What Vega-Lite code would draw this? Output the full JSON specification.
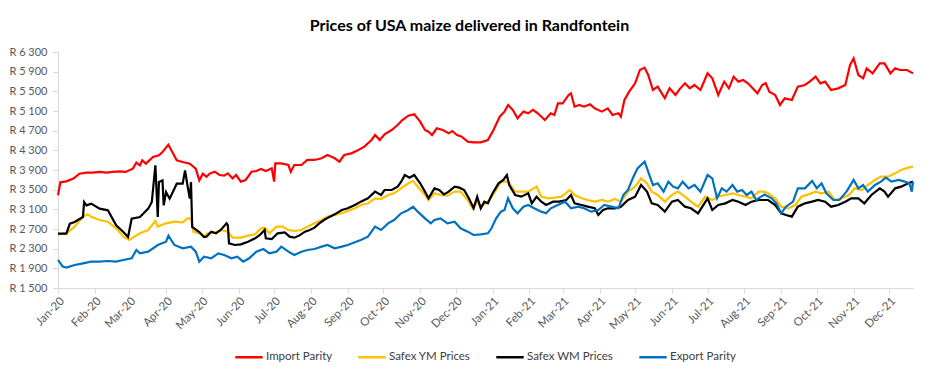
{
  "$schema": "https://vega.github.io/schema/vega-lite/v6.json",
  "autosize": {"type": "none"},
  "width": 855,
  "height": 236,
  "padding": {"left": 58, "top": 52, "right": 26, "bottom": 86},
  "background": "white",
  "title": {"text": "Prices of USA maize delivered in Randfontein", "font": "Lato", "fontSize": 16, "fontWeight": "bold", "color": "#000000", "anchor": "middle", "frame": "group", "dx": -16, "offset": 12},
  "config": {"view": {"stroke": null}, "font": "Lato"},
  "datasets": {
    "imp": [
      {"date":"2020-01-01","price":3385},{"date":"2020-01-03","price":3650},{"date":"2020-01-08","price":3670},{"date":"2020-01-14","price":3724},{"date":"2020-01-19","price":3825},{"date":"2020-01-25","price":3846},{"date":"2020-01-30","price":3846},{"date":"2020-02-05","price":3860},{"date":"2020-02-11","price":3846},{"date":"2020-02-16","price":3860},{"date":"2020-02-22","price":3873},{"date":"2020-02-27","price":3860},{"date":"2020-03-04","price":3927},{"date":"2020-03-07","price":4049},{"date":"2020-03-10","price":3995},{"date":"2020-03-12","price":4097},{"date":"2020-03-15","price":4029},{"date":"2020-03-21","price":4165},{"date":"2020-03-26","price":4198},{"date":"2020-03-29","price":4266},{"date":"2020-04-03","price":4415},{"date":"2020-04-07","price":4232},{"date":"2020-04-10","price":4097},{"date":"2020-04-15","price":4063},{"date":"2020-04-21","price":4029},{"date":"2020-04-26","price":3927},{"date":"2020-04-29","price":3690},{"date":"2020-05-02","price":3825},{"date":"2020-05-05","price":3764},{"date":"2020-05-08","price":3832},{"date":"2020-05-12","price":3866},{"date":"2020-05-16","price":3798},{"date":"2020-05-20","price":3785},{"date":"2020-05-23","price":3832},{"date":"2020-05-27","price":3730},{"date":"2020-05-30","price":3798},{"date":"2020-06-03","price":3663},{"date":"2020-06-07","price":3697},{"date":"2020-06-12","price":3866},{"date":"2020-06-16","price":3880},{"date":"2020-06-20","price":3920},{"date":"2020-06-24","price":3880},{"date":"2020-06-29","price":3934},{"date":"2020-07-01","price":3663},{"date":"2020-07-02","price":4036},{"date":"2020-07-07","price":4036},{"date":"2020-07-13","price":4002},{"date":"2020-07-15","price":3866},{"date":"2020-07-18","price":4002},{"date":"2020-07-24","price":4002},{"date":"2020-07-29","price":4104},{"date":"2020-08-04","price":4104},{"date":"2020-08-10","price":4138},{"date":"2020-08-15","price":4205},{"date":"2020-08-21","price":4138},{"date":"2020-08-25","price":4070},{"date":"2020-08-29","price":4205},{"date":"2020-09-04","price":4239},{"date":"2020-09-10","price":4307},{"date":"2020-09-15","price":4375},{"date":"2020-09-21","price":4510},{"date":"2020-09-24","price":4612},{"date":"2020-09-28","price":4510},{"date":"2020-10-02","price":4626},{"date":"2020-10-08","price":4714},{"date":"2020-10-13","price":4815},{"date":"2020-10-17","price":4917},{"date":"2020-10-22","price":5005},{"date":"2020-10-27","price":5032},{"date":"2020-11-01","price":4883},{"date":"2020-11-05","price":4714},{"date":"2020-11-08","price":4680},{"date":"2020-11-11","price":4612},{"date":"2020-11-15","price":4748},{"date":"2020-11-20","price":4714},{"date":"2020-11-25","price":4646},{"date":"2020-11-28","price":4693},{"date":"2020-12-02","price":4612},{"date":"2020-12-06","price":4578},{"date":"2020-12-11","price":4476},{"date":"2020-12-16","price":4463},{"date":"2020-12-22","price":4463},{"date":"2020-12-28","price":4510},{"date":"2021-01-01","price":4680},{"date":"2021-01-07","price":4985},{"date":"2021-01-11","price":5087},{"date":"2021-01-14","price":5222},{"date":"2021-01-18","price":5121},{"date":"2021-01-22","price":4951},{"date":"2021-01-27","price":5087},{"date":"2021-01-31","price":5053},{"date":"2021-02-04","price":5121},{"date":"2021-02-08","price":5053},{"date":"2021-02-14","price":4917},{"date":"2021-02-19","price":5053},{"date":"2021-02-22","price":5019},{"date":"2021-02-25","price":5256},{"date":"2021-03-01","price":5256},{"date":"2021-03-06","price":5426},{"date":"2021-03-08","price":5460},{"date":"2021-03-11","price":5188},{"date":"2021-03-15","price":5222},{"date":"2021-03-19","price":5188},{"date":"2021-03-24","price":5236},{"date":"2021-03-28","price":5154},{"date":"2021-04-03","price":5087},{"date":"2021-04-08","price":5154},{"date":"2021-04-12","price":5019},{"date":"2021-04-17","price":5053},{"date":"2021-04-19","price":4985},{"date":"2021-04-22","price":5324},{"date":"2021-04-26","price":5493},{"date":"2021-05-01","price":5663},{"date":"2021-05-05","price":5934},{"date":"2021-05-09","price":5982},{"date":"2021-05-12","price":5832},{"date":"2021-05-16","price":5527},{"date":"2021-05-20","price":5595},{"date":"2021-05-26","price":5358},{"date":"2021-05-30","price":5561},{"date":"2021-06-04","price":5426},{"date":"2021-06-08","price":5561},{"date":"2021-06-12","price":5663},{"date":"2021-06-16","price":5561},{"date":"2021-06-20","price":5629},{"date":"2021-06-25","price":5527},{"date":"2021-07-01","price":5866},{"date":"2021-07-05","price":5765},{"date":"2021-07-10","price":5426},{"date":"2021-07-15","price":5697},{"date":"2021-07-19","price":5561},{"date":"2021-07-23","price":5798},{"date":"2021-07-27","price":5697},{"date":"2021-07-31","price":5731},{"date":"2021-08-04","price":5663},{"date":"2021-08-08","price":5561},{"date":"2021-08-12","price":5459},{"date":"2021-08-16","price":5629},{"date":"2021-08-19","price":5663},{"date":"2021-08-22","price":5493},{"date":"2021-08-27","price":5426},{"date":"2021-08-31","price":5222},{"date":"2021-09-04","price":5358},{"date":"2021-09-10","price":5324},{"date":"2021-09-15","price":5595},{"date":"2021-09-21","price":5629},{"date":"2021-09-25","price":5697},{"date":"2021-09-30","price":5798},{"date":"2021-10-04","price":5663},{"date":"2021-10-08","price":5697},{"date":"2021-10-13","price":5527},{"date":"2021-10-19","price":5561},{"date":"2021-10-25","price":5629},{"date":"2021-10-29","price":6036},{"date":"2021-11-01","price":6171},{"date":"2021-11-05","price":5832},{"date":"2021-11-09","price":5765},{"date":"2021-11-12","price":5968},{"date":"2021-11-17","price":5866},{"date":"2021-11-23","price":6069},{"date":"2021-11-27","price":6069},{"date":"2021-12-02","price":5866},{"date":"2021-12-06","price":5968},{"date":"2021-12-10","price":5934},{"date":"2021-12-16","price":5934},{"date":"2021-12-21","price":5866}
    ],
    "ym": [
      {"date":"2020-01-01","price":2590},{"date":"2020-01-08","price":2612},{"date":"2020-01-15","price":2748},{"date":"2020-01-22","price":2951},{"date":"2020-01-26","price":2998},{"date":"2020-01-29","price":2951},{"date":"2020-02-05","price":2883},{"date":"2020-02-12","price":2849},{"date":"2020-02-19","price":2714},{"date":"2020-02-25","price":2544},{"date":"2020-03-01","price":2476},{"date":"2020-03-03","price":2510},{"date":"2020-03-10","price":2612},{"date":"2020-03-17","price":2680},{"date":"2020-03-23","price":2863},{"date":"2020-03-25","price":2748},{"date":"2020-04-01","price":2815},{"date":"2020-04-08","price":2849},{"date":"2020-04-15","price":2836},{"date":"2020-04-19","price":2917},{"date":"2020-04-22","price":2917},{"date":"2020-04-24","price":2646},{"date":"2020-04-29","price":2612},{"date":"2020-05-03","price":2544},{"date":"2020-05-06","price":2612},{"date":"2020-05-12","price":2625},{"date":"2020-05-17","price":2680},{"date":"2020-05-23","price":2646},{"date":"2020-05-27","price":2524},{"date":"2020-06-03","price":2524},{"date":"2020-06-09","price":2565},{"date":"2020-06-15","price":2592},{"date":"2020-06-20","price":2714},{"date":"2020-06-23","price":2727},{"date":"2020-06-27","price":2612},{"date":"2020-07-03","price":2748},{"date":"2020-07-08","price":2748},{"date":"2020-07-13","price":2680},{"date":"2020-07-18","price":2660},{"date":"2020-07-24","price":2680},{"date":"2020-07-29","price":2748},{"date":"2020-08-04","price":2815},{"date":"2020-08-10","price":2883},{"date":"2020-08-15","price":2951},{"date":"2020-08-21","price":2985},{"date":"2020-08-27","price":3019},{"date":"2020-09-01","price":3066},{"date":"2020-09-07","price":3121},{"date":"2020-09-12","price":3188},{"date":"2020-09-18","price":3222},{"date":"2020-09-24","price":3324},{"date":"2020-09-29","price":3310},{"date":"2020-10-05","price":3392},{"date":"2020-10-10","price":3426},{"date":"2020-10-16","price":3527},{"date":"2020-10-22","price":3629},{"date":"2020-10-26","price":3676},{"date":"2020-10-30","price":3561},{"date":"2020-11-05","price":3392},{"date":"2020-11-08","price":3290},{"date":"2020-11-13","price":3426},{"date":"2020-11-18","price":3392},{"date":"2020-11-24","price":3378},{"date":"2020-11-30","price":3460},{"date":"2020-12-05","price":3460},{"date":"2020-12-11","price":3290},{"date":"2020-12-15","price":3121},{"date":"2020-12-19","price":3256},{"date":"2020-12-22","price":3154},{"date":"2020-12-28","price":3256},{"date":"2021-01-03","price":3460},{"date":"2021-01-08","price":3663},{"date":"2021-01-14","price":3663},{"date":"2021-01-20","price":3460},{"date":"2021-01-25","price":3460},{"date":"2021-01-31","price":3460},{"date":"2021-02-07","price":3561},{"date":"2021-02-11","price":3358},{"date":"2021-02-17","price":3324},{"date":"2021-02-22","price":3337},{"date":"2021-02-28","price":3358},{"date":"2021-03-07","price":3493},{"date":"2021-03-11","price":3392},{"date":"2021-03-17","price":3324},{"date":"2021-03-22","price":3290},{"date":"2021-03-28","price":3256},{"date":"2021-04-03","price":3290},{"date":"2021-04-08","price":3256},{"date":"2021-04-14","price":3310},{"date":"2021-04-19","price":3256},{"date":"2021-04-25","price":3460},{"date":"2021-05-01","price":3561},{"date":"2021-05-06","price":3731},{"date":"2021-05-11","price":3629},{"date":"2021-05-15","price":3460},{"date":"2021-05-20","price":3392},{"date":"2021-05-26","price":3256},{"date":"2021-06-01","price":3392},{"date":"2021-06-06","price":3460},{"date":"2021-06-12","price":3358},{"date":"2021-06-17","price":3256},{"date":"2021-06-23","price":3154},{"date":"2021-06-29","price":3358},{"date":"2021-07-05","price":3290},{"date":"2021-07-10","price":3358},{"date":"2021-07-16","price":3392},{"date":"2021-07-22","price":3426},{"date":"2021-07-27","price":3392},{"date":"2021-08-02","price":3358},{"date":"2021-08-07","price":3324},{"date":"2021-08-13","price":3460},{"date":"2021-08-18","price":3460},{"date":"2021-08-21","price":3426},{"date":"2021-08-27","price":3324},{"date":"2021-09-01","price":3154},{"date":"2021-09-07","price":3121},{"date":"2021-09-13","price":3188},{"date":"2021-09-18","price":3358},{"date":"2021-09-24","price":3405},{"date":"2021-09-30","price":3460},{"date":"2021-10-05","price":3426},{"date":"2021-10-11","price":3460},{"date":"2021-10-16","price":3290},{"date":"2021-10-22","price":3324},{"date":"2021-10-28","price":3392},{"date":"2021-11-02","price":3527},{"date":"2021-11-08","price":3493},{"date":"2021-11-13","price":3595},{"date":"2021-11-19","price":3697},{"date":"2021-11-24","price":3765},{"date":"2021-11-30","price":3765},{"date":"2021-12-06","price":3832},{"date":"2021-12-11","price":3900},{"date":"2021-12-17","price":3948},{"date":"2021-12-21","price":3968}
    ],
    "wm": [
      {"date":"2020-01-01","price":2605},{"date":"2020-01-08","price":2605},{"date":"2020-01-11","price":2808},{"date":"2020-01-15","price":2842},{"date":"2020-01-22","price":2944},{"date":"2020-01-23","price":3249},{"date":"2020-01-25","price":3181},{"date":"2020-01-29","price":3215},{"date":"2020-02-05","price":3114},{"date":"2020-02-12","price":3080},{"date":"2020-02-19","price":2775},{"date":"2020-02-25","price":2639},{"date":"2020-02-29","price":2537},{"date":"2020-03-03","price":2910},{"date":"2020-03-10","price":2944},{"date":"2020-03-17","price":3114},{"date":"2020-03-20","price":3250},{"date":"2020-03-23","price":3995},{"date":"2020-03-25","price":2944},{"date":"2020-03-26","price":3656},{"date":"2020-03-29","price":3690},{"date":"2020-03-30","price":3181},{"date":"2020-04-01","price":3453},{"date":"2020-04-04","price":3317},{"date":"2020-04-08","price":3520},{"date":"2020-04-10","price":3622},{"date":"2020-04-15","price":3622},{"date":"2020-04-17","price":3893},{"date":"2020-04-19","price":3588},{"date":"2020-04-21","price":3317},{"date":"2020-04-22","price":3656},{"date":"2020-04-23","price":2741},{"date":"2020-04-29","price":2639},{"date":"2020-05-03","price":2537},{"date":"2020-05-05","price":2544},{"date":"2020-05-09","price":2646},{"date":"2020-05-13","price":2612},{"date":"2020-05-17","price":2680},{"date":"2020-05-22","price":2815},{"date":"2020-05-23","price":2781},{"date":"2020-05-24","price":2409},{"date":"2020-05-29","price":2375},{"date":"2020-06-03","price":2388},{"date":"2020-06-09","price":2442},{"date":"2020-06-15","price":2510},{"date":"2020-06-19","price":2578},{"date":"2020-06-23","price":2680},{"date":"2020-06-24","price":2510},{"date":"2020-06-29","price":2497},{"date":"2020-07-04","price":2612},{"date":"2020-07-10","price":2632},{"date":"2020-07-14","price":2544},{"date":"2020-07-18","price":2524},{"date":"2020-07-22","price":2565},{"date":"2020-07-27","price":2646},{"date":"2020-07-31","price":2680},{"date":"2020-08-04","price":2727},{"date":"2020-08-08","price":2815},{"date":"2020-08-12","price":2883},{"date":"2020-08-17","price":2951},{"date":"2020-08-21","price":2998},{"date":"2020-08-27","price":3087},{"date":"2020-09-01","price":3121},{"date":"2020-09-07","price":3188},{"date":"2020-09-12","price":3256},{"date":"2020-09-18","price":3324},{"date":"2020-09-24","price":3460},{"date":"2020-09-29","price":3392},{"date":"2020-10-02","price":3493},{"date":"2020-10-08","price":3493},{"date":"2020-10-13","price":3561},{"date":"2020-10-16","price":3663},{"date":"2020-10-19","price":3798},{"date":"2020-10-23","price":3744},{"date":"2020-10-27","price":3798},{"date":"2020-11-01","price":3629},{"date":"2020-11-05","price":3460},{"date":"2020-11-08","price":3324},{"date":"2020-11-13","price":3527},{"date":"2020-11-17","price":3493},{"date":"2020-11-21","price":3405},{"date":"2020-11-25","price":3460},{"date":"2020-11-30","price":3561},{"date":"2020-12-04","price":3541},{"date":"2020-12-08","price":3493},{"date":"2020-12-12","price":3324},{"date":"2020-12-16","price":3121},{"date":"2020-12-19","price":3358},{"date":"2020-12-22","price":3121},{"date":"2020-12-25","price":3256},{"date":"2020-12-28","price":3222},{"date":"2021-01-01","price":3426},{"date":"2021-01-06","price":3629},{"date":"2021-01-10","price":3697},{"date":"2021-01-13","price":3798},{"date":"2021-01-15","price":3595},{"date":"2021-01-20","price":3392},{"date":"2021-01-25","price":3358},{"date":"2021-01-31","price":3426},{"date":"2021-02-03","price":3222},{"date":"2021-02-07","price":3358},{"date":"2021-02-11","price":3256},{"date":"2021-02-15","price":3188},{"date":"2021-02-21","price":3256},{"date":"2021-02-26","price":3256},{"date":"2021-03-04","price":3290},{"date":"2021-03-08","price":3392},{"date":"2021-03-11","price":3222},{"date":"2021-03-17","price":3188},{"date":"2021-03-22","price":3154},{"date":"2021-03-28","price":3121},{"date":"2021-03-31","price":2985},{"date":"2021-04-04","price":3087},{"date":"2021-04-08","price":3121},{"date":"2021-04-14","price":3121},{"date":"2021-04-19","price":3150},{"date":"2021-04-25","price":3290},{"date":"2021-05-01","price":3358},{"date":"2021-05-06","price":3595},{"date":"2021-05-11","price":3460},{"date":"2021-05-15","price":3222},{"date":"2021-05-20","price":3188},{"date":"2021-05-26","price":3053},{"date":"2021-06-01","price":3256},{"date":"2021-06-06","price":3290},{"date":"2021-06-12","price":3154},{"date":"2021-06-17","price":3121},{"date":"2021-06-23","price":3019},{"date":"2021-07-01","price":3324},{"date":"2021-07-05","price":3087},{"date":"2021-07-10","price":3188},{"date":"2021-07-16","price":3222},{"date":"2021-07-22","price":3290},{"date":"2021-07-27","price":3256},{"date":"2021-08-02","price":3188},{"date":"2021-08-07","price":3256},{"date":"2021-08-13","price":3290},{"date":"2021-08-18","price":3290},{"date":"2021-08-21","price":3290},{"date":"2021-08-27","price":3188},{"date":"2021-09-01","price":3019},{"date":"2021-09-05","price":2985},{"date":"2021-09-10","price":2951},{"date":"2021-09-15","price":3154},{"date":"2021-09-21","price":3222},{"date":"2021-09-27","price":3256},{"date":"2021-10-02","price":3290},{"date":"2021-10-08","price":3256},{"date":"2021-10-13","price":3154},{"date":"2021-10-19","price":3188},{"date":"2021-10-25","price":3256},{"date":"2021-10-30","price":3324},{"date":"2021-11-05","price":3324},{"date":"2021-11-10","price":3222},{"date":"2021-11-16","price":3392},{"date":"2021-11-23","price":3527},{"date":"2021-11-27","price":3460},{"date":"2021-11-30","price":3358},{"date":"2021-12-06","price":3527},{"date":"2021-12-11","price":3561},{"date":"2021-12-17","price":3629},{"date":"2021-12-21","price":3663}
    ],
    "exp": [
      {"date":"2020-01-01","price":2070},{"date":"2020-01-05","price":1934},{"date":"2020-01-08","price":1914},{"date":"2020-01-15","price":1968},{"date":"2020-01-22","price":2002},{"date":"2020-01-29","price":2036},{"date":"2020-02-05","price":2036},{"date":"2020-02-12","price":2049},{"date":"2020-02-19","price":2036},{"date":"2020-02-25","price":2070},{"date":"2020-03-03","price":2104},{"date":"2020-03-07","price":2273},{"date":"2020-03-10","price":2205},{"date":"2020-03-17","price":2239},{"date":"2020-03-25","price":2375},{"date":"2020-04-01","price":2442},{"date":"2020-04-03","price":2564},{"date":"2020-04-08","price":2375},{"date":"2020-04-15","price":2307},{"date":"2020-04-22","price":2341},{"date":"2020-04-26","price":2239},{"date":"2020-04-29","price":2036},{"date":"2020-05-03","price":2137},{"date":"2020-05-09","price":2104},{"date":"2020-05-15","price":2205},{"date":"2020-05-20","price":2171},{"date":"2020-05-26","price":2104},{"date":"2020-05-31","price":2137},{"date":"2020-06-05","price":2036},{"date":"2020-06-10","price":2104},{"date":"2020-06-16","price":2239},{"date":"2020-06-22","price":2293},{"date":"2020-06-27","price":2205},{"date":"2020-07-03","price":2239},{"date":"2020-07-07","price":2341},{"date":"2020-07-13","price":2239},{"date":"2020-07-18","price":2171},{"date":"2020-07-24","price":2239},{"date":"2020-07-29","price":2273},{"date":"2020-08-04","price":2293},{"date":"2020-08-10","price":2341},{"date":"2020-08-15","price":2375},{"date":"2020-08-21","price":2307},{"date":"2020-08-27","price":2341},{"date":"2020-09-01","price":2375},{"date":"2020-09-07","price":2429},{"date":"2020-09-12","price":2476},{"date":"2020-09-18","price":2544},{"date":"2020-09-24","price":2748},{"date":"2020-09-29","price":2680},{"date":"2020-10-05","price":2815},{"date":"2020-10-10","price":2883},{"date":"2020-10-16","price":3019},{"date":"2020-10-22","price":3087},{"date":"2020-10-26","price":3154},{"date":"2020-10-30","price":3053},{"date":"2020-11-05","price":2917},{"date":"2020-11-10","price":2815},{"date":"2020-11-13","price":2883},{"date":"2020-11-18","price":2917},{"date":"2020-11-24","price":2815},{"date":"2020-11-30","price":2849},{"date":"2020-12-05","price":2714},{"date":"2020-12-11","price":2646},{"date":"2020-12-16","price":2578},{"date":"2020-12-22","price":2590},{"date":"2020-12-28","price":2612},{"date":"2020-12-31","price":2714},{"date":"2021-01-04","price":2917},{"date":"2021-01-08","price":3053},{"date":"2021-01-11","price":3087},{"date":"2021-01-14","price":3324},{"date":"2021-01-18","price":3121},{"date":"2021-01-22","price":3019},{"date":"2021-01-27","price":3154},{"date":"2021-01-31","price":3188},{"date":"2021-02-05","price":3121},{"date":"2021-02-11","price":3053},{"date":"2021-02-15","price":3019},{"date":"2021-02-19","price":3121},{"date":"2021-02-25","price":3188},{"date":"2021-03-03","price":3256},{"date":"2021-03-08","price":3121},{"date":"2021-03-14","price":3154},{"date":"2021-03-19","price":3121},{"date":"2021-03-25","price":3053},{"date":"2021-03-31","price":3087},{"date":"2021-04-05","price":3188},{"date":"2021-04-11","price":3154},{"date":"2021-04-17","price":3121},{"date":"2021-04-21","price":3392},{"date":"2021-04-25","price":3493},{"date":"2021-04-29","price":3731},{"date":"2021-05-03","price":3934},{"date":"2021-05-09","price":4070},{"date":"2021-05-12","price":3866},{"date":"2021-05-16","price":3595},{"date":"2021-05-20","price":3629},{"date":"2021-05-25","price":3460},{"date":"2021-05-29","price":3663},{"date":"2021-06-02","price":3561},{"date":"2021-06-06","price":3527},{"date":"2021-06-10","price":3663},{"date":"2021-06-15","price":3527},{"date":"2021-06-20","price":3595},{"date":"2021-06-25","price":3460},{"date":"2021-07-01","price":3798},{"date":"2021-07-05","price":3731},{"date":"2021-07-09","price":3324},{"date":"2021-07-13","price":3527},{"date":"2021-07-17","price":3460},{"date":"2021-07-22","price":3595},{"date":"2021-07-26","price":3460},{"date":"2021-07-30","price":3493},{"date":"2021-08-03","price":3392},{"date":"2021-08-07","price":3460},{"date":"2021-08-11","price":3290},{"date":"2021-08-15","price":3358},{"date":"2021-08-18","price":3400},{"date":"2021-08-24","price":3324},{"date":"2021-08-28","price":3222},{"date":"2021-09-01","price":3019},{"date":"2021-09-05","price":3154},{"date":"2021-09-11","price":3256},{"date":"2021-09-15","price":3527},{"date":"2021-09-21","price":3527},{"date":"2021-09-27","price":3676},{"date":"2021-10-01","price":3527},{"date":"2021-10-05","price":3629},{"date":"2021-10-09","price":3426},{"date":"2021-10-15","price":3290},{"date":"2021-10-20","price":3290},{"date":"2021-10-26","price":3460},{"date":"2021-11-01","price":3697},{"date":"2021-11-05","price":3527},{"date":"2021-11-09","price":3595},{"date":"2021-11-13","price":3460},{"date":"2021-11-19","price":3595},{"date":"2021-11-24","price":3663},{"date":"2021-11-28","price":3744},{"date":"2021-12-03","price":3663},{"date":"2021-12-09","price":3697},{"date":"2021-12-14","price":3663},{"date":"2021-12-18","price":3629},{"date":"2021-12-20","price":3460},{"date":"2021-12-21","price":3663}
    ]
  },
  "encoding": {
    "x": {
      "field": "date", "type": "temporal",
      "scale": {"type": "utc", "domain": [{"year": 2020, "month": 1, "date": 1, "utc": true}, {"year": 2021, "month": 12, "date": 21, "utc": true}]},
      "axis": {"title": null, "format": "%b-%y", "tickCount": {"interval": "month", "step": 1}, "labelAngle": -45, "labelFontSize": 11.5, "labelColor": "#595959", "labelFont": "Lato", "domainColor": "#D9D9D9", "tickColor": "#D9D9D9", "tickSize": 5, "grid": false, "labelPadding": 2, "labelOverlap": false, "labelFlush": false}
    },
    "y": {
      "field": "price", "type": "quantitative",
      "scale": {"domain": [1500, 6300], "nice": false, "zero": false},
      "axis": {"title": null, "values": [1500, 1900, 2300, 2700, 3100, 3500, 3900, 4300, 4700, 5100, 5500, 5900, 6300], "labelExpr": "'R ' + replace(format(datum.value, ','), ',', ' ')", "labelFontSize": 11, "labelColor": "#595959", "labelFont": "Lato", "domainColor": "#D9D9D9", "tickColor": "#D9D9D9", "tickSize": 5, "labelPadding": 6, "grid": false}
    }
  },
  "layer": [
    {"data": {"name": "imp"}, "mark": {"type": "line", "strokeWidth": 2.2, "interpolate": "linear"},
     "encoding": {"color": {"datum": "Import Parity", "type": "nominal",
       "scale": {"domain": ["Import Parity", "Safex YM Prices", "Safex WM Prices", "Export Parity"], "range": ["#FF0000", "#FFC000", "#000000", "#0070C0"]},
       "legend": {"title": null, "orient": "none", "direction": "horizontal", "legendX": 176, "legendY": 290, "symbolType": "stroke", "symbolSize": 750, "symbolStrokeWidth": 2.5, "labelFontSize": 11.5, "labelColor": "#404040", "labelFont": "Lato", "columnPadding": 20, "labelOffset": 2}}}},
    {"data": {"name": "ym"}, "mark": {"type": "line", "strokeWidth": 2.2}, "encoding": {"color": {"datum": "Safex YM Prices", "type": "nominal"}}},
    {"data": {"name": "wm"}, "mark": {"type": "line", "strokeWidth": 2.2}, "encoding": {"color": {"datum": "Safex WM Prices", "type": "nominal"}}},
    {"data": {"name": "exp"}, "mark": {"type": "line", "strokeWidth": 2.2}, "encoding": {"color": {"datum": "Export Parity", "type": "nominal"}}}
  ]
}
